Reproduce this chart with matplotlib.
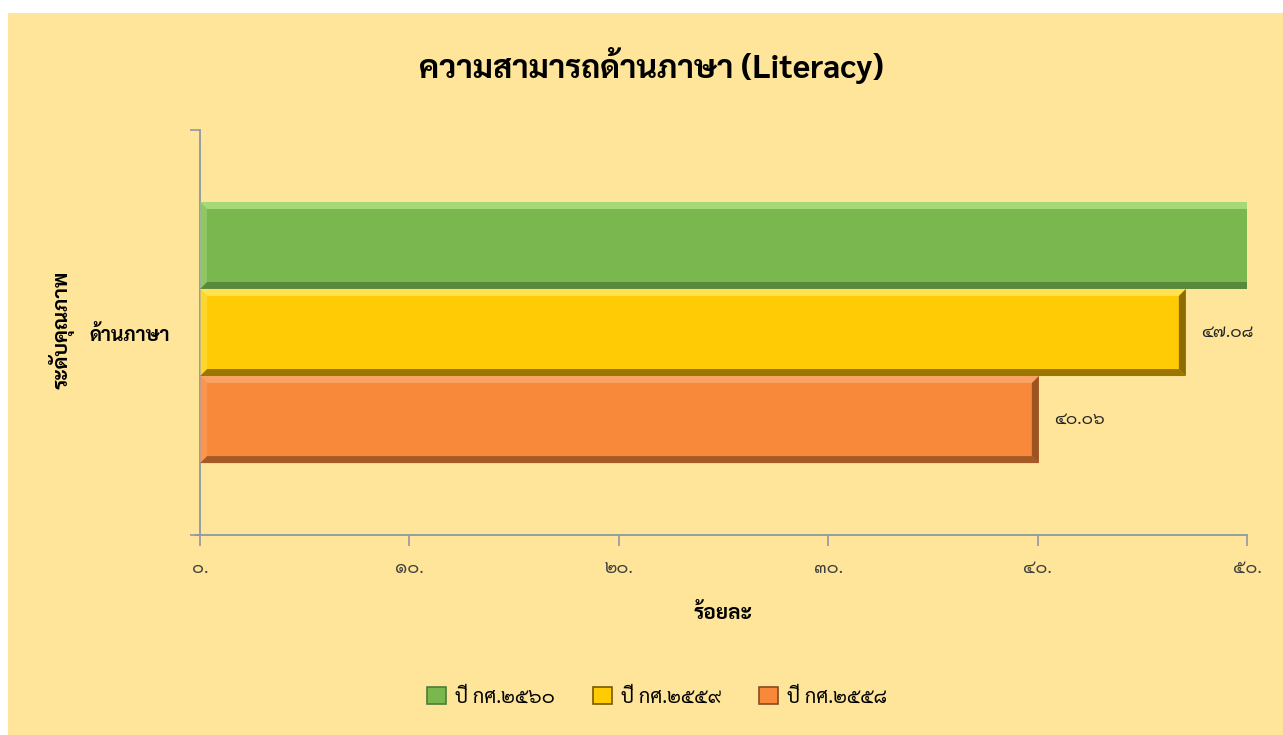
import matplotlib
matplotlib.use("Agg")
import matplotlib.pyplot as plt
from matplotlib.patches import Rectangle, Polygon, Patch
from matplotlib.transforms import IdentityTransform

# ---------------- data ----------------
title = "ความสามารถด้านภาษา (Literacy)"
category = ["ด้านภาษา"]
series_names = ["ปี กศ.๒๕๖๐", "ปี กศ.๒๕๕๙", "ปี กศ.๒๕๕๘"]
series_values = [52.80, 47.08, 40.06]   # first value runs past the 50 limit (label not visible)
xticks = [0, 10, 20, 30, 40, 50]
xlabel = "ร้อยละ"
ylabel = "ระดับคุณภาพ"

# ---------------- style ----------------
BG = "#FEE599"
colors = ["#7AB74F", "#FFCB05", "#F8893A"]
lights = ["#A9DC7E", "#FFE45A", "#FBA56A"]
darks = ["#4E7C35", "#7A5A00", "#8A4A1E"]
AXC = "#8E98A6"
FONT = "Sarabun"
THAI_DIG = str.maketrans("0123456789", "๐๑๒๓๔๕๖๗๘๙")

def thai(s):
    return s.translate(THAI_DIG)

W, H = 1283, 735
fig = plt.figure(figsize=(W / 100, H / 100), dpi=100, facecolor="white")
fig.patches.append(Rectangle((8 / W, 0), 1 - 8 / W, 1 - 13 / H, transform=fig.transFigure,
                             facecolor=BG, edgecolor="none", zorder=-5))

ax = fig.add_axes([200 / W, 1 - 535 / H, (1247 - 200) / W, (535 - 130) / H])
ax.set_facecolor("none")
ax.set_zorder(1)

h = 0.215
offsets = [h, 0.0, -h]
bars = []
for i, (name, v) in enumerate(zip(series_names, series_values)):
    b = ax.barh([offsets[i]], [v], height=h, color=colors[i], edgecolor="none",
                label=name, zorder=2)
    bars.append(b[0])

ax.set_xlim(0, 50)
ax.set_ylim(-0.5, 0.5)

# data labels (only those inside the axis range)
for i, v in enumerate(series_values):
    if v <= ax.get_xlim()[1]:
        ax.annotate(thai(f"{v:.2f}"), xy=(v, offsets[i]), xytext=(11, 0),
                    textcoords="offset points", ha="left", va="center",
                    fontsize=12.5, color="#262626", family=FONT)

# axes styling
for s in ["top", "right"]:
    ax.spines[s].set_visible(False)
for s in ["left", "bottom"]:
    ax.spines[s].set_color(AXC)
    ax.spines[s].set_linewidth(1.3)
ax.spines["bottom"].set_bounds(-0.2, 50)

ax.set_xticks(xticks)
ax.set_xticklabels([thai(f"{t}.") for t in xticks], family=FONT, fontsize=13, color="#404040")
ax.tick_params(axis="x", length=8, width=1.2, color=AXC, pad=10)

ax.set_yticks([0])
ax.set_yticklabels(category, family=FONT, fontsize=14, fontweight="bold", color="black")
ax.set_yticks([-0.5, 0.5], minor=True)
ax.tick_params(axis="y", which="major", length=0, pad=22)
ax.tick_params(axis="y", which="minor", length=7, width=1.2, color=AXC)

ax.set_xlabel(xlabel, family=FONT, fontsize=15, fontweight="bold", labelpad=19)
fig.text(62 / W, 1 - 330 / H, ylabel, rotation=90, ha="center", va="center",
         family=FONT, fontsize=15, fontweight="bold")

fig.text(651 / W, 1 - 68 / H, title, ha="center", va="center", family=FONT,
         fontsize=23.2, fontweight="bold")

# bevel effect computed from the drawn bars
fig.canvas.draw()
axbb = ax.get_window_extent()
bw = 7
for i, p in enumerate(bars):
    bb = p.get_window_extent()
    x0, y0, x1, y1 = bb.x0, bb.y0, min(bb.x1, axbb.x1), bb.y1
    clipped = bb.x1 > axbb.x1 + 0.5
    xr = x1 if clipped else x1 - bw
    polys = [
        ([(x0, y1), (x1, y1), (xr, y1 - bw), (x0 + bw, y1 - bw)], lights[i], 0.9),
        ([(x0, y0), (x1, y0), (xr, y0 + bw), (x0 + bw, y0 + bw)], darks[i], 0.75),
        ([(x0, y0), (x0, y1), (x0 + bw, y1 - bw), (x0 + bw, y0 + bw)], lights[i], 0.45),
    ]
    if not clipped:
        polys.append(([(x1, y0), (x1, y1), (x1 - bw, y1 - bw), (x1 - bw, y0 + bw)], darks[i], 0.85))
    for pts, c, a in polys:
        fig.patches.append(Polygon(pts, closed=True, transform=IdentityTransform(),
                                   facecolor=c, edgecolor="none", alpha=a, zorder=3))

# legend
handles = [Patch(facecolor=colors[i], edgecolor=darks[i], linewidth=1.2) for i in range(3)]
leg = fig.legend(handles, series_names, loc="center", bbox_to_anchor=(657 / W, 1 - 697 / H),
                 ncol=3, frameon=False, handlelength=0.95, handleheight=0.95, handletextpad=0.45,
                 columnspacing=1.9, prop={"family": FONT, "size": 14.3})

fig.savefig("out.png", dpi=100, facecolor="white")
